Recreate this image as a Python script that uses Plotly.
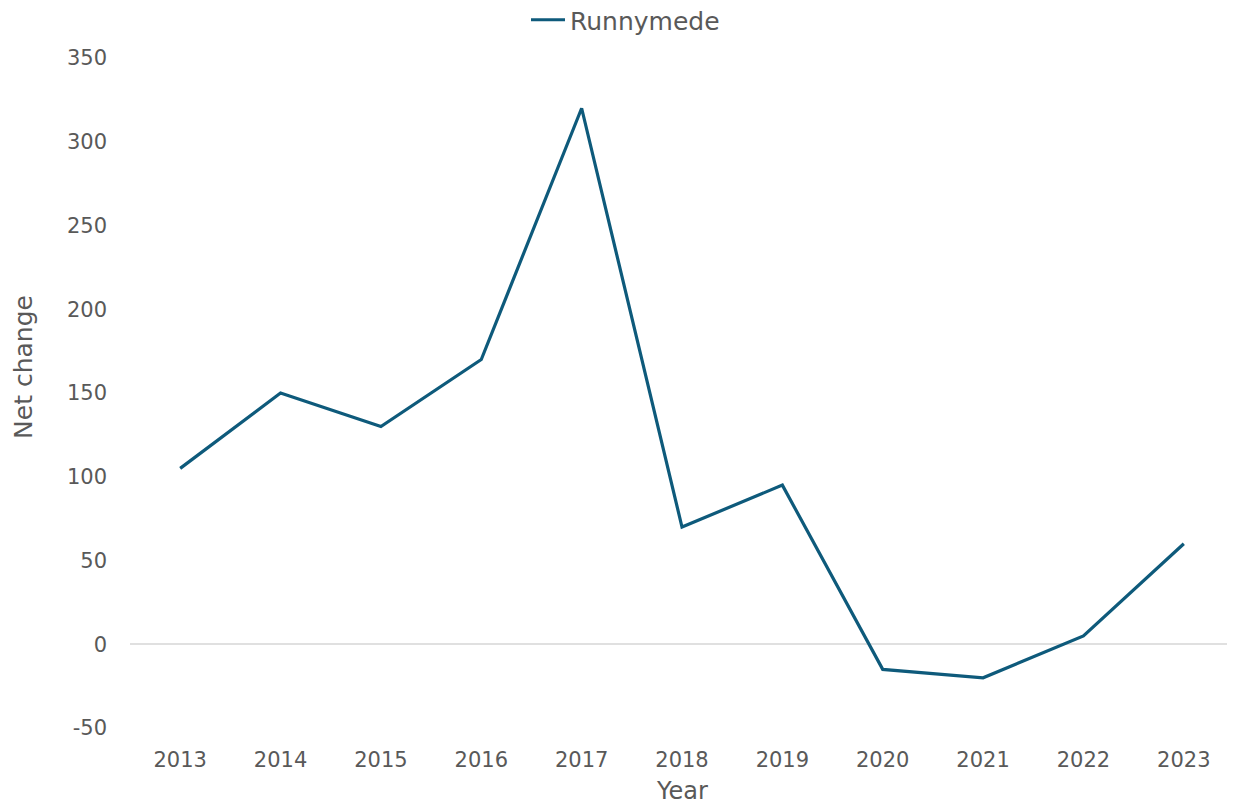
import plotly.graph_objects as go

years = ["2013", "2014", "2015", "2016", "2017", "2018", "2019", "2020", "2021", "2022", "2023"]
net_change = [105, 150, 130, 170, 320, 70, 95, -15, -20, 5, 60]
series_name = "Runnymede"
y_ticks = [-50, 0, 50, 100, 150, 200, 250, 300, 350]
y_tick_labels = ["-50", "0", "50", "100", "150", "200", "250", "300", "350"]

FONT = "DejaVu Sans"
TXT = "#595959"

fig = go.Figure()
fig.add_trace(go.Scatter(
    x=years, y=net_change, mode="lines", name=series_name,
    line=dict(color="#0E5A7B", width=3.2),
))

fig.update_layout(
    width=1235, height=809,
    margin=dict(l=122, r=9, t=50, b=89, autoexpand=False),
    paper_bgcolor="white", plot_bgcolor="white",
    font=dict(family=FONT, size=21, color=TXT),
    showlegend=True,
    legend=dict(orientation="h", x=0.5, xanchor="center", xref="container",
                y=1.0567, yanchor="middle", yref="paper",
                font=dict(size=25, color=TXT), itemwidth=34),
    xaxis=dict(type="category", range=[-0.5, 10.5], showgrid=False, showline=False,
               zeroline=False, ticks="", ticklabelstandoff=17, automargin=False,
               tickfont=dict(size=21)),
    yaxis=dict(range=[-50, 350], tickmode="array", tickvals=y_ticks, ticktext=y_tick_labels,
               showgrid=False, zeroline=True, automargin=False,
               zerolinecolor="#E0E0E0", zerolinewidth=1.5, showline=False, ticks="",
               ticklabelstandoff=22, tickfont=dict(size=21)),
    annotations=[
        dict(text="Year", xref="paper", yref="paper", x=0.5, y=-0.094,
             xanchor="center", yanchor="middle", showarrow=False,
             font=dict(size=24, color=TXT)),
        dict(text="Net change", xref="paper", yref="paper", x=-0.097, y=0.5388,
             xanchor="center", yanchor="middle", showarrow=False, textangle=-90,
             font=dict(size=25, color=TXT)),
    ],
)

fig.write_html("out.html")
